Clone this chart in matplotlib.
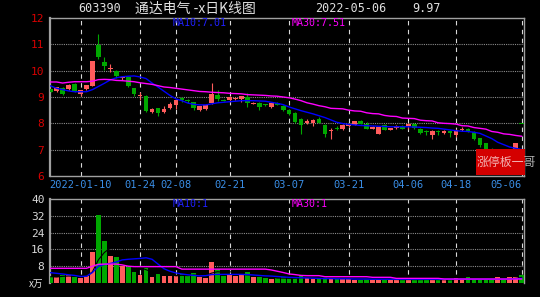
import numpy as np
import pandas as pd
import matplotlib
matplotlib.use("Agg")
import matplotlib.pyplot as plt
from matplotlib.patches import Rectangle

# daily candles 2021-12-31 .. 2022-05-06 (80 trading days)
opens = [9.29, 9.24, 9.35, 9.29, 9.50, 9.12, 9.30, 9.42, 10.97, 10.33,
         10.08, 10.00, 9.72, 9.77, 9.35, 9.02, 9.04, 8.44, 8.57, 8.42,
         8.58, 8.68, 8.95, 8.88, 8.80, 8.52, 8.54, 8.78, 9.08, 8.90,
         8.87, 8.94, 8.93, 9.00, 8.74, 8.78, 8.72, 8.63, 8.78, 8.66,
         8.52, 8.40, 8.15, 8.02, 8.00, 8.18, 7.94, 7.72, 7.82, 7.80,
         7.88, 7.95, 8.10, 7.98, 7.80, 7.60, 7.93, 7.76, 7.82, 7.88,
         7.88, 7.99, 7.80, 7.72, 7.56, 7.72, 7.62, 7.70, 7.56, 7.75,
         7.80, 7.68, 7.43, 7.24, 7.00, 6.60, 6.70, 6.50, 6.60, 7.97]
highs = [9.31, 9.39, 9.38, 9.48, 9.53, 9.28, 9.47, 10.38, 11.38, 10.53,
         10.25, 10.02, 9.80, 9.80, 9.36, 9.18, 9.06, 8.58, 8.60, 8.65,
         8.80, 8.92, 9.00, 8.92, 8.82, 8.67, 8.72, 9.53, 9.25, 8.93,
         9.02, 8.99, 9.05, 9.16, 8.80, 8.80, 8.74, 8.78, 8.80, 8.70,
         8.54, 8.42, 8.20, 8.16, 8.16, 8.24, 7.96, 7.82, 7.88, 7.98,
         8.02, 8.10, 8.12, 8.06, 7.90, 7.85, 7.96, 7.83, 7.92, 7.92,
         8.01, 8.02, 7.82, 7.75, 7.74, 7.76, 7.74, 7.74, 7.80, 7.86,
         7.84, 7.70, 7.45, 7.26, 7.05, 6.82, 6.74, 6.65, 7.25, 7.97]
lows = [9.18, 9.20, 9.06, 9.27, 9.18, 9.03, 9.28, 9.40, 10.45, 10.02,
        9.95, 9.72, 9.65, 9.38, 9.05, 8.90, 8.42, 8.40, 8.26, 8.38,
        8.55, 8.54, 8.82, 8.78, 8.50, 8.47, 8.52, 8.74, 8.83, 8.84,
        8.80, 8.90, 8.82, 8.62, 8.72, 8.50, 8.65, 8.60, 8.69, 8.45,
        8.30, 8.00, 7.60, 7.98, 7.88, 8.00, 7.49, 7.40, 7.74, 7.75,
        7.85, 7.92, 7.96, 7.77, 7.77, 7.60, 7.74, 7.74, 7.80, 7.77,
        7.80, 7.78, 7.60, 7.55, 7.40, 7.56, 7.58, 7.50, 7.47, 7.72,
        7.66, 7.37, 7.10, 6.98, 6.62, 6.55, 6.45, 6.40, 6.58, 7.97]
closes = [9.20, 9.37, 9.10, 9.45, 9.20, 9.27, 9.45, 10.38, 10.51, 10.19,
          10.12, 9.78, 9.76, 9.42, 9.12, 9.05, 8.48, 8.56, 8.40, 8.56,
          8.75, 8.88, 8.90, 8.85, 8.60, 8.65, 8.70, 9.13, 8.92, 8.86,
          9.00, 8.97, 9.03, 8.77, 8.78, 8.63, 8.68, 8.76, 8.71, 8.49,
          8.37, 8.06, 7.95, 8.08, 8.14, 8.03, 7.60, 7.76, 7.80, 7.93,
          7.99, 8.08, 7.98, 7.80, 7.86, 7.85, 7.76, 7.81, 7.88, 7.80,
          7.99, 7.82, 7.65, 7.67, 7.72, 7.66, 7.70, 7.64, 7.74, 7.80,
          7.70, 7.39, 7.18, 7.02, 6.70, 6.75, 6.50, 6.59, 7.25, 7.97]
# volume, x万
volumes = [3.0, 2.7, 3.8, 3.8, 2.7, 2.2, 3.3, 14.6, 32.4, 20.2,
           12.9, 12.2, 8.1, 7.5, 5.2, 3.8, 7.0, 3.0, 4.1, 3.3,
           3.3, 3.3, 4.3, 3.3, 4.6, 3.0, 2.5, 10.2, 6.5, 3.3,
           3.8, 3.3, 3.8, 5.1, 2.7, 2.7, 2.2, 1.8, 2.2, 2.7,
           2.2, 2.2, 3.3, 2.7, 2.1, 2.0, 2.7, 2.0, 2.0, 2.0,
           2.0, 1.6, 1.6, 1.8, 1.8, 1.6, 1.8, 1.6, 1.4, 1.6,
           1.8, 1.6, 1.6, 1.6, 1.6, 1.6, 1.4, 1.4, 2.4, 1.8,
           2.7, 1.8, 1.6, 1.6, 1.4, 2.7, 1.6, 2.7, 2.7, 3.8]

# moving averages as shown (they include days before the window)
ma10 = [9.42, 9.33, 9.28, 9.23, 9.20, 9.20, 9.20, 9.28, 9.40, 9.52,
        9.65, 9.73, 9.77, 9.79, 9.80, 9.76, 9.70, 9.53, 9.38, 9.22,
        9.06, 8.93, 8.86, 8.77, 8.72, 8.70, 8.70, 8.74, 8.78, 8.80,
        8.82, 8.84, 8.86, 8.86, 8.86, 8.85, 8.84, 8.80, 8.76, 8.71,
        8.62, 8.55, 8.48, 8.42, 8.36, 8.29, 8.22, 8.13, 8.04, 7.99,
        7.96, 7.94, 7.92, 7.91, 7.90, 7.89, 7.88, 7.87, 7.87, 7.87,
        7.87, 7.86, 7.85, 7.84, 7.82, 7.81, 7.78, 7.75, 7.72, 7.70,
        7.69, 7.66, 7.62, 7.52, 7.42, 7.28, 7.19, 7.10, 7.05, 7.01]
ma30 = [9.57, 9.57, 9.53, 9.56, 9.58, 9.58, 9.58, 9.60, 9.66, 9.67,
        9.66, 9.63, 9.62, 9.60, 9.58, 9.54, 9.51, 9.48, 9.43, 9.38,
        9.36, 9.33, 9.30, 9.27, 9.24, 9.21, 9.20, 9.18, 9.17, 9.16,
        9.14, 9.13, 9.12, 9.09, 9.08, 9.07, 9.06, 9.04, 9.03, 9.00,
        8.97, 8.92, 8.86, 8.78, 8.73, 8.67, 8.63, 8.57, 8.56, 8.55,
        8.50, 8.47, 8.46, 8.40, 8.37, 8.36, 8.30, 8.27, 8.26, 8.20,
        8.19, 8.18, 8.12, 8.10, 8.09, 8.02, 8.00, 7.99, 7.97, 7.91,
        7.90, 7.84, 7.81, 7.78, 7.69, 7.66, 7.60, 7.58, 7.54, 7.51]
vol_ma10 = [4.9, 4.6, 4.3, 3.9, 3.6, 3.1, 3.2, 5.0, 8.0, 8.8,
            9.3, 10.0, 11.0, 11.3, 11.5, 11.7, 12.0, 11.3, 9.0, 6.8,
            5.6, 4.8, 4.3, 3.9, 3.6, 3.4, 3.5, 4.0, 4.1, 4.1,
            4.1, 4.1, 4.1, 4.0, 3.8, 3.6, 3.4, 3.3, 3.1, 2.9,
            2.7, 2.6, 2.5, 2.4, 2.3, 2.2, 2.1, 2.1, 2.0, 2.0,
            2.0, 1.9, 1.9, 1.9, 1.8, 1.8, 1.8, 1.8, 1.8, 1.8,
            1.8, 1.8, 1.8, 1.8, 1.8, 1.8, 1.8, 1.8, 1.8, 1.8,
            1.8, 1.8, 1.8, 1.8, 1.8, 1.8, 1.8, 1.9, 2.0, 2.2]
vol_ma30 = [7.0, 7.0, 7.0, 7.0, 7.0, 7.0, 7.0, 8.0, 8.9, 9.0,
            9.0, 9.0, 8.6, 8.0, 7.8, 7.8, 7.8, 7.8, 7.8, 7.8,
            7.8, 7.8, 6.6, 6.6, 6.6, 6.6, 6.6, 6.6, 6.6, 6.6,
            6.6, 6.6, 6.6, 6.6, 6.6, 6.6, 6.6, 6.2, 5.6, 5.0,
            4.3, 4.0, 3.6, 3.5, 3.5, 3.5, 3.0, 3.0, 3.0, 3.0,
            3.0, 3.0, 3.0, 3.0, 2.7, 2.7, 2.7, 2.7, 2.2, 2.2,
            2.2, 2.2, 2.2, 2.2, 2.2, 2.2, 1.9, 1.9, 1.9, 1.9,
            1.9, 1.9, 1.9, 1.9, 1.9, 1.9, 1.9, 1.9, 1.9, 1.9]

tick_idx = [5, 15, 21, 30, 40, 50, 60, 68, 79]
tick_labels = ["2022-01-10", "01-24", "02-08", "02-21", "03-07",
               "03-21", "04-06", "04-18", "05-06"]
price_ticks = [6, 7, 8, 9, 10, 11, 12]
vol_ticks = [8, 16, 24, 32, 40]

UP = "#ff5c5c"
DOWN = "#00a800"
MONO = "DejaVu Sans Mono"
CJK = ["Noto Sans CJK SC", "DejaVu Sans"]

df = pd.DataFrame({"open": opens, "high": highs, "low": lows,
                   "close": closes, "vol": volumes})
x = np.arange(len(df))
up = df["close"] > df["open"]
colors = np.where(up, UP, DOWN)

W, H = 540, 297
fig = plt.figure(figsize=(W / 100, H / 100), dpi=100, facecolor="black")
ax = fig.add_axes([50 / W, 1 - 176 / H, 474 / W, 158 / H], facecolor="black")
axv = fig.add_axes([50 / W, 1 - 283 / H, 474 / W, 84 / H], facecolor="black")

xlim = (-0.12, 79.4)

# --- price panel
for y in price_ticks[1:-1]:
    ax.axhline(y, color="#8c8c8c", lw=0.8, ls=(0, (1, 1)), zorder=1)
for t in tick_idx:
    ax.axvline(t, color="#d8d8d8", lw=0.8, ls=(0, (4, 4)), zorder=1)

ax.vlines(x, df["low"], df["high"], colors=colors, lw=0.8, zorder=3)
body_lo = np.minimum(df["open"], df["close"])
body_h = np.maximum(np.abs(df["close"] - df["open"]), 0.04)
ax.bar(x, body_h, bottom=body_lo, width=0.78, color=colors, linewidth=0, zorder=3)

ax.plot(x, ma10, color="#0000ff", lw=1.0, zorder=4)
ax.plot(x, ma30, color="#ff00ff", lw=1.0, zorder=4)

ax.set_xlim(*xlim)
ax.set_ylim(6, 12)
ax.set_yticks(price_ticks)
ax.set_yticklabels([str(p) for p in price_ticks], family=MONO)
ax.set_xticks(tick_idx)
ax.set_xticklabels(tick_labels, family=MONO)
ax.get_xticklabels()[-1].set_ha("right")
ax.tick_params(axis="y", length=0, pad=4, labelcolor="#d80000", labelsize=8)
ax.tick_params(axis="x", length=0, pad=3, labelcolor="#3a8ee6", labelsize=7.5)
for s in ax.spines.values():
    s.set_color("#a0a0a0")
    s.set_linewidth(1.0)
ax.spines["left"].set_linewidth(1.6)

# --- volume panel
for y in vol_ticks[:-1]:
    axv.axhline(y, color="#8c8c8c", lw=0.8, ls=(0, (1, 1)), zorder=1)
for t in tick_idx:
    axv.axvline(t, color="#d8d8d8", lw=0.8, ls=(0, (4, 4)), zorder=1)
axv.bar(x, df["vol"], width=0.78, color=colors, linewidth=0, zorder=3)
vol_ma5 = df["vol"].rolling(5, min_periods=1).mean()
axv.plot(x, vol_ma5, color="black", lw=0.8, zorder=4)
axv.plot(x, vol_ma10, color="#0000ff", lw=1.0, zorder=4)
axv.plot(x, vol_ma30, color="#ff00ff", lw=1.0, zorder=4)
axv.set_xlim(*xlim)
axv.set_ylim(0, 40)
axv.set_yticks(vol_ticks)
axv.set_yticklabels([str(v) for v in vol_ticks], family=MONO)
axv.set_xticks([])
axv.tick_params(axis="y", length=0, pad=4, labelcolor="#d8d8d8", labelsize=8)
for s in axv.spines.values():
    s.set_color("#a0a0a0")
    s.set_linewidth(1.0)
axv.spines["left"].set_linewidth(1.6)
axv.spines["bottom"].set_visible(False)


def px(xp, yp):
    return xp / W, 1 - yp / H


# --- header texts
fig.text(*px(78, 9), "603390", color="#e0e0e0", family=MONO, fontsize=8.5, va="center")
fig.text(*px(135, 9), "通达电气 -x日K线图", color="#e0e0e0", family=CJK, fontsize=10, va="center")
fig.text(*px(315, 9), "2022-05-06", color="#e0e0e0", family=MONO, fontsize=8.5, va="center")
fig.text(*px(412, 9), "9.97", color="#e0e0e0", family=MONO, fontsize=8.5, va="center")

fig.text(*px(173, 23), "MA10:7.01", color="#2020ff", family=MONO, fontsize=7.2, va="center")
fig.text(*px(292, 23), "MA30:7.51", color="#ff00ff", family=MONO, fontsize=7.2, va="center")
fig.text(*px(173, 204), "MA10:1", color="#2020ff", family=MONO, fontsize=7.2, va="center")
fig.text(*px(292, 204), "MA30:1", color="#ff00ff", family=MONO, fontsize=7.2, va="center")
fig.text(*px(36, 284), "x万", color="#e0e0e0", family=CJK, fontsize=7, va="center", ha="center")

# watermark box
fig.add_artist(Rectangle(px(476, 175), 49 / W, 26 / H, transform=fig.transFigure,
                         facecolor="#d40000", edgecolor="none", zorder=5))
fig.text(*px(477, 162), "涨停板一哥", color="white", alpha=0.7, family=CJK,
         fontsize=8.6, va="center", zorder=6)

fig.savefig("out.png", dpi=100, facecolor="black")
